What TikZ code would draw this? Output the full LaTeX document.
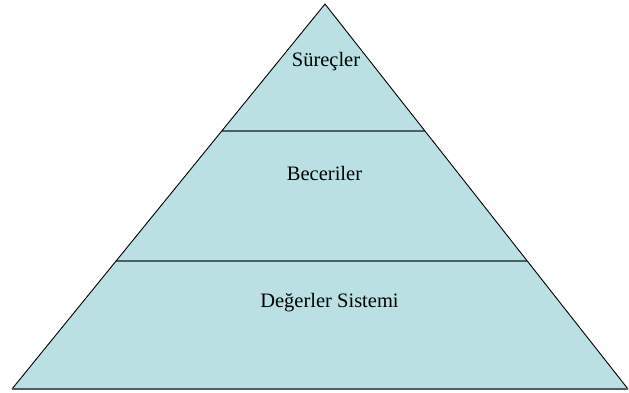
\documentclass[tikz,border=0pt]{standalone}
\usepackage{fontspec}
\setmainfont{Liberation Serif}
\usetikzlibrary{calc}
\definecolor{pyrfill}{HTML}{BAE0E3}
\definecolor{divline}{HTML}{4A6262}
\tikzset{
  layerlabel/.style={anchor=base, inner sep=0pt, font=\fontsize{20.5}{24}\selectfont, text=black},
  divider/.style={draw=divline, line width=2pt},
}
\begin{document}
\begin{tikzpicture}[x=1pt,y=-1pt]
\useasboundingbox (0,0) rectangle (629,392);
\coordinate (apex) at (325,4);
\coordinate (bl) at (12,389);
\coordinate (br) at (628,389);
\fill[pyrfill] (apex) -- (bl) -- (br) -- cycle;
\coordinate (l1) at ($(bl)!0.6701!(apex)$);
\coordinate (r1) at ($(br)!0.6701!(apex)$);
\coordinate (l2) at ($(bl)!0.3325!(apex)$);
\coordinate (r2) at ($(br)!0.3325!(apex)$);
\draw[divider] (l1) -- (r1);
\draw[divider] (l2) -- (r2);
\draw[black, line width=0.9pt, line join=miter] (bl) -- (apex) -- (br);
\draw[draw=divline, line width=2pt] (bl) -- (br);
\node[layerlabel] (t1) at (326,66) {Süreçler};
\node[layerlabel] (t2) at (324.5,180) {Beceriler};
\node[layerlabel] (t3) at (329.5,307) {Değerler Sistemi};
\end{tikzpicture}
\end{document}
